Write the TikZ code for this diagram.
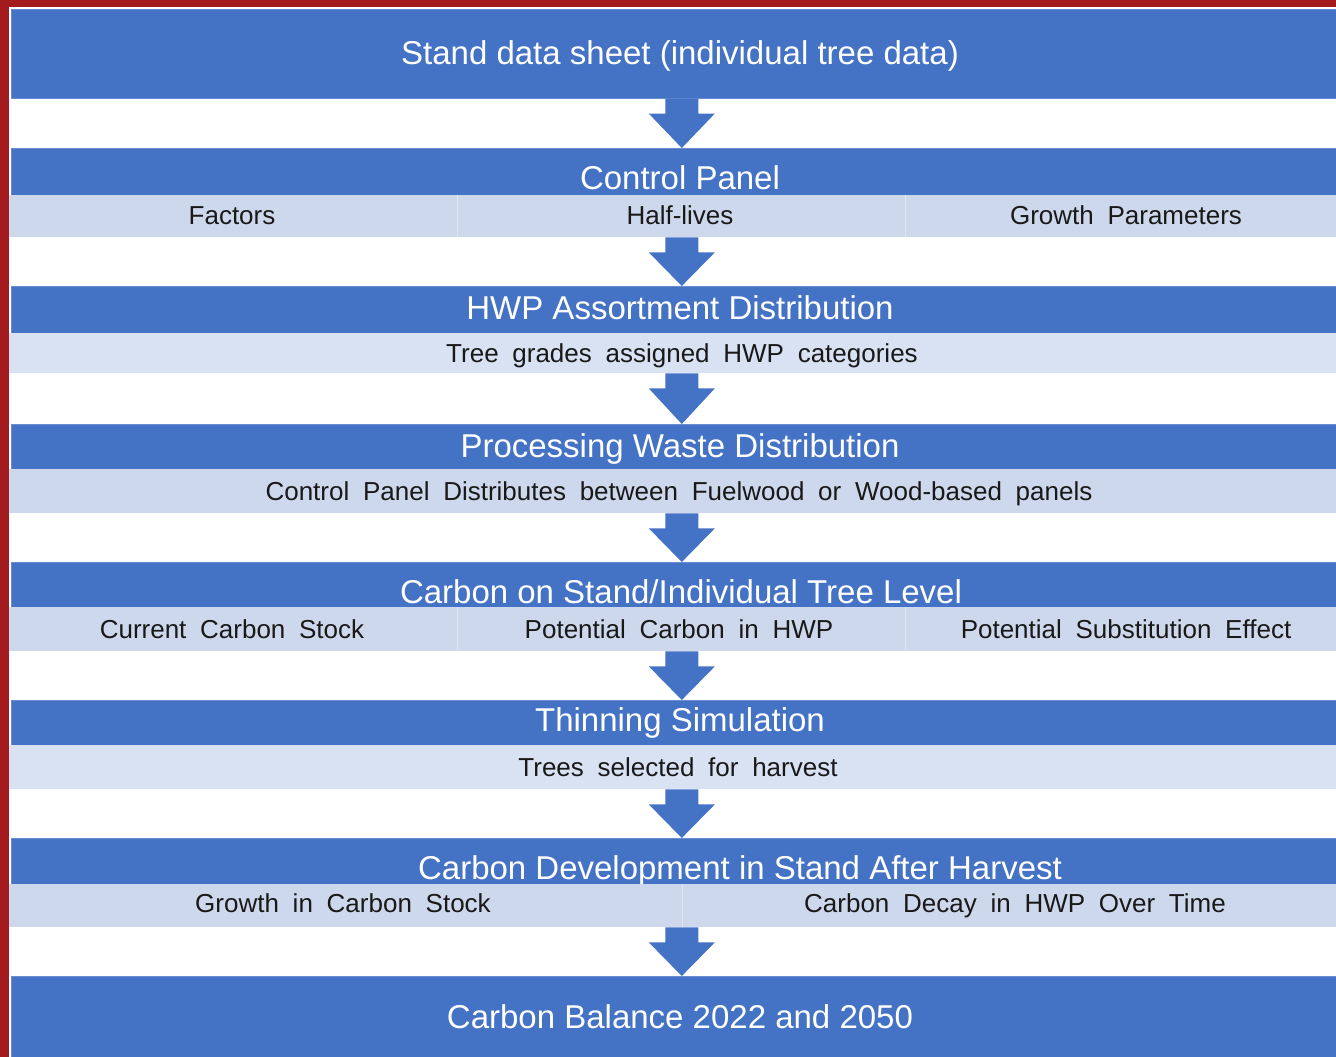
\documentclass[tikz,border=0pt]{standalone}
\usepackage{fontspec}
\setmainfont{Liberation Sans}
\newfontfamily\subfont{Liberation Sans}[WordSpace=1.9]
\usetikzlibrary{calc}
\definecolor{frame}{RGB}{164,27,31}
\definecolor{hblue}{RGB}{68,114,196}
\definecolor{hedge}{RGB}{104,140,206}
\definecolor{bandA}{RGB}{205,216,236}
\definecolor{bandB}{RGB}{217,226,243}
\definecolor{divl}{RGB}{222,228,240}
\definecolor{subtxt}{RGB}{25,25,25}
\tikzset{
  hdrbox/.style={rectangle, fill=hblue, draw=hedge, line width=0.6pt, inner sep=0pt, anchor=north west, minimum width=1325pt},
  bandbox/.style={rectangle, fill=#1, draw=none, inner sep=0pt, anchor=north west},
  hdrtxt/.style={anchor=base, text=white, inner sep=0pt, font=\fontsize{33}{40}\selectfont},
  subtext/.style={anchor=base, text=subtxt, inner sep=0pt, font=\subfont\fontsize{26}{31}\selectfont},
  divider/.style={draw=divl, line width=1pt},
  blockarrow/.style={fill=hblue}
}
% block arrow from the bottom of node #1 to the top of node #2
\newcommand{\blockarr}[2]{%
  \coordinate (tmpS) at ($(#1.south -| #2.north)+(8,0)$);
  \coordinate (tmpE) at ($(#2.north)+(8,0)$);
  \fill[blockarrow] ($(tmpS)+(-16.5,0)$) -- ($(tmpS)+(16.5,0)$) -- ($(tmpS)+(16.5,15)$) -- ($(tmpS)+(33,15)$) -- (tmpE) -- ($(tmpS)+(-33,15)$) -- ($(tmpS)+(-16.5,15)$) -- cycle;}
\begin{document}
\begin{tikzpicture}[x=1pt,y=-1pt]
\useasboundingbox (0,0) rectangle (1336,1057);
\fill[frame] (0,0) rectangle (1336,1057);
\fill[white] (9,7) rectangle (1336,1057);
% Box 1
\node[hdrbox, minimum height=89pt] (b1) at (11,9) {};
\node[hdrtxt] (t1) at (680,64) {Stand data sheet (individual tree data)};
% Box 2
\node[hdrbox, minimum height=47pt] (b2) at (11,148) {};
\node[hdrtxt] (t2) at (680,189) {Control Panel};
\node[bandbox=bandA, minimum width=448pt, minimum height=42pt] (c2a) at (9,195) {};
\node[bandbox=bandA, minimum width=448pt, minimum height=42pt] (c2b) at (457,195) {};
\node[bandbox=bandA, minimum width=431pt, minimum height=42pt] (c2c) at (905,195) {};
\draw[divider] (c2a.north east) -- (c2a.south east);
\draw[divider] (c2b.north east) -- (c2b.south east);
\node[subtext] (s2a) at (232,224) {Factors};
\node[subtext] (s2b) at (680,224) {Half-lives};
\node[subtext] (s2c) at (1126,224) {Growth Parameters};
% Box 3
\node[hdrbox, minimum height=47pt] (b3) at (11,286) {};
\node[hdrtxt] (t3) at (680,319) {HWP Assortment Distribution};
\node[bandbox=bandB, minimum width=1327pt, minimum height=40pt] (c3) at (9,333) {};
\node[subtext] (s3) at (682,362) {Tree grades assigned HWP categories};
% Box 4
\node[hdrbox, minimum height=45pt] (b4) at (11,424) {};
\node[hdrtxt] (t4) at (680,457) {Processing Waste Distribution};
\node[bandbox=bandA, minimum width=1327pt, minimum height=44pt] (c4) at (9,469) {};
\node[subtext] (s4) at (679,500) {Control Panel Distributes between Fuelwood or Wood-based panels};
% Box 5
\node[hdrbox, minimum height=45pt] (b5) at (11,562) {};
\node[hdrtxt] (t5) at (681,603) {Carbon on Stand/Individual Tree Level};
\node[bandbox=bandA, minimum width=448pt, minimum height=44pt] (c5a) at (9,607) {};
\node[bandbox=bandA, minimum width=448pt, minimum height=44pt] (c5b) at (457,607) {};
\node[bandbox=bandA, minimum width=431pt, minimum height=44pt] (c5c) at (905,607) {};
\draw[divider] (c5a.north east) -- (c5a.south east);
\draw[divider] (c5b.north east) -- (c5b.south east);
\node[subtext] (s5a) at (232,638) {Current Carbon Stock};
\node[subtext] (s5b) at (679,638) {Potential Carbon in HWP};
\node[subtext] (s5c) at (1126,638) {Potential Substitution Effect};
% Box 6
\node[hdrbox, minimum height=45pt] (b6) at (11,700) {};
\node[hdrtxt] (t6) at (680,731) {Thinning Simulation};
\node[bandbox=bandB, minimum width=1327pt, minimum height=44pt] (c6) at (9,745) {};
\node[subtext] (s6) at (678,776) {Trees selected for harvest};
% Box 7
\node[hdrbox, minimum height=46pt] (b7) at (11,838) {};
\node[hdrtxt] (t7) at (740,879) {Carbon Development in Stand After Harvest};
\node[bandbox=bandA, minimum width=673pt, minimum height=43pt] (c7a) at (9,884) {};
\node[bandbox=bandA, minimum width=654pt, minimum height=43pt] (c7b) at (682,884) {};
\draw[divider] (c7a.north east) -- (c7a.south east);
\node[subtext] (s7a) at (343,912) {Growth in Carbon Stock};
\node[subtext] (s7b) at (1015,912) {Carbon Decay in HWP Over Time};
% Box 8
\node[hdrbox, minimum height=81pt] (b8) at (11,976) {};
\node[hdrtxt] (t8) at (680,1028) {Carbon Balance 2022 and 2050};
% arrows
\blockarr{b1}{b2}
\blockarr{c2b}{b3}
\blockarr{c3}{b4}
\blockarr{c4}{b5}
\blockarr{c5b}{b6}
\blockarr{c6}{b7}
\blockarr{c7a}{b8}
\end{tikzpicture}
\end{document}
